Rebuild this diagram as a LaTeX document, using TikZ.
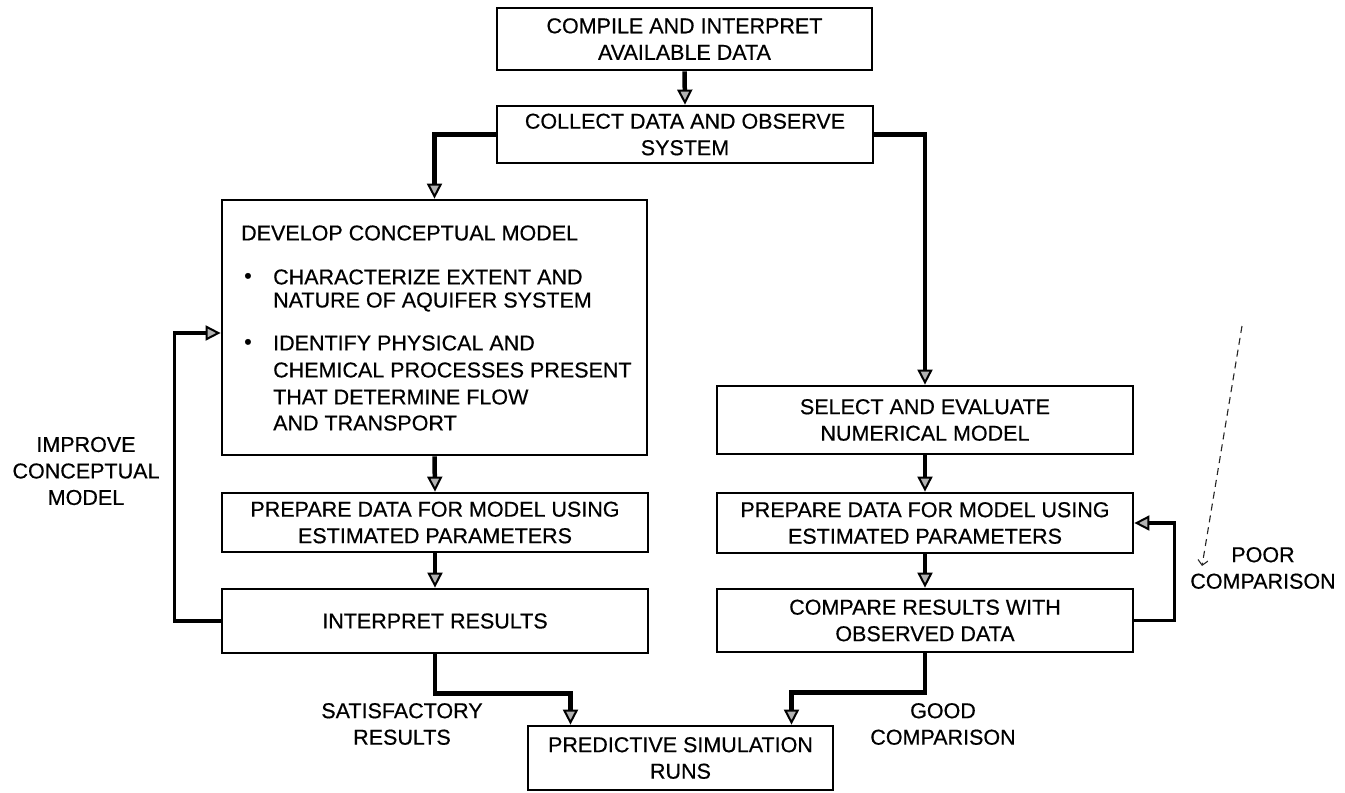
\documentclass[tikz,border=0pt]{standalone}
\usepackage{fontspec}
\setmainfont{Liberation Sans}[FakeBold=0.5]
\usetikzlibrary{arrows.meta,calc}
\newcommand\txtfont{\fontsize{21.5}{26.5}\selectfont}
\begin{document}
\begin{tikzpicture}[x=1pt,y=-1pt,
  box/.style={draw,line width=2.8pt,rectangle,inner sep=0pt,align=center,font=\txtfont},
  lbl/.style={inner sep=0pt,align=center,font=\txtfont},
  ltxt/.style={inner sep=0pt,anchor=west,font=\txtfont},
  conn/.style={line width=4.5pt,-{Triangle[length=15pt,width=15pt,line width=2pt,fill=gray!60]}},
  fback/.style={line width=3.4pt,-{Triangle[length=15pt,width=15pt,line width=2pt,fill=gray!60]}}
]
\useasboundingbox (0,0) rectangle (1345,793);
\fill[white] (0,0) rectangle (1345,793);

% boxes
\node[box,minimum width=375pt,minimum height=62pt] (compile) at (684.5,39) {COMPILE AND INTERPRET\\AVAILABLE DATA};
\node[box,minimum width=376pt,minimum height=57pt] (collect) at (685,134.5) {COLLECT DATA AND OBSERVE\\SYSTEM};
\node[box,minimum width=425pt,minimum height=255pt] (dev) at (434.5,327.5) {};
\node[box,minimum width=426pt,minimum height=59pt] (prepL) at (435,522.5) {PREPARE DATA FOR MODEL USING\\ESTIMATED PARAMETERS};
\node[box,minimum width=426pt,minimum height=64pt] (interp) at (435,621) {INTERPRET RESULTS};
\node[box,minimum width=416pt,minimum height=68pt] (select) at (925,420) {SELECT AND EVALUATE\\NUMERICAL MODEL};
\node[box,minimum width=416pt,minimum height=60pt] (prepR) at (925,523) {PREPARE DATA FOR MODEL USING\\ESTIMATED PARAMETERS};
\node[box,minimum width=416pt,minimum height=63pt] (cmp) at (925,620.5) {COMPARE RESULTS WITH\\OBSERVED DATA};
\node[box,minimum width=305pt,minimum height=64pt] (pred) at (680.5,758) {PREDICTIVE SIMULATION\\RUNS};

% text of the conceptual model box
\node[ltxt] (devtitle) at (241,233) {DEVELOP CONCEPTUAL MODEL};
\node[ltxt] (bulA) at (244,278) {\textbullet};
\node[ltxt] (devA1) at (273,277) {CHARACTERIZE EXTENT AND};
\node[ltxt] (devA2) at (273,302) {NATURE OF AQUIFER SYSTEM};
\node[ltxt] (bulB) at (244,344) {\textbullet};
\node[ltxt] (devB1) at (273,343) {IDENTIFY PHYSICAL AND};
\node[ltxt] (devB2) at (273,370) {CHEMICAL PROCESSES PRESENT};
\node[ltxt] (devB3) at (273,397) {THAT DETERMINE FLOW};
\node[ltxt] (devB4) at (273,423) {AND TRANSPORT};

% labels
\node[lbl] (improve) at (86,471) {IMPROVE\\CONCEPTUAL\\MODEL};
\node[lbl] (satis) at (402,724) {SATISFACTORY\\RESULTS};
\node[lbl] (good) at (943,724) {GOOD\\COMPARISON};
\node[lbl] (poor) at (1263,568) {POOR\\COMPARISON};

% connectors
\draw[conn] (compile.south) -- (collect.north);
\draw[conn] (collect.west) -| (dev.north);
\draw[conn] (collect.east) -| (select.north);
\draw[conn] (dev.south) -- (prepL.north);
\draw[conn] (prepL.south) -- (interp.north);
\draw[conn] (select.south) -- (prepR.north);
\draw[conn] (prepR.south) -- (cmp.north);
\draw[fback] (interp.west) -- ++(-46,0) |- ($(dev.west)+(0,5.5)$);
\draw[fback] (cmp.east) -- ++(40,0) |- (prepR.east);
\draw[conn] (interp.south) -- ++(0,39) -| ($(pred.north)+(-110,0)$);
\draw[conn] (cmp.south) -- ++(0,39) -| ($(pred.north)+(111,0)$);

% faint dashed stroke near the poor-comparison loop
\coordinate (dashA) at (1242,326);
\coordinate (dashB) at (1202,566);
\draw[line width=1.1pt,dash pattern=on 7pt off 5pt,black!85,-{Straight Barb[length=5pt]}] (dashA) -- (dashB);
\end{tikzpicture}
\end{document}
